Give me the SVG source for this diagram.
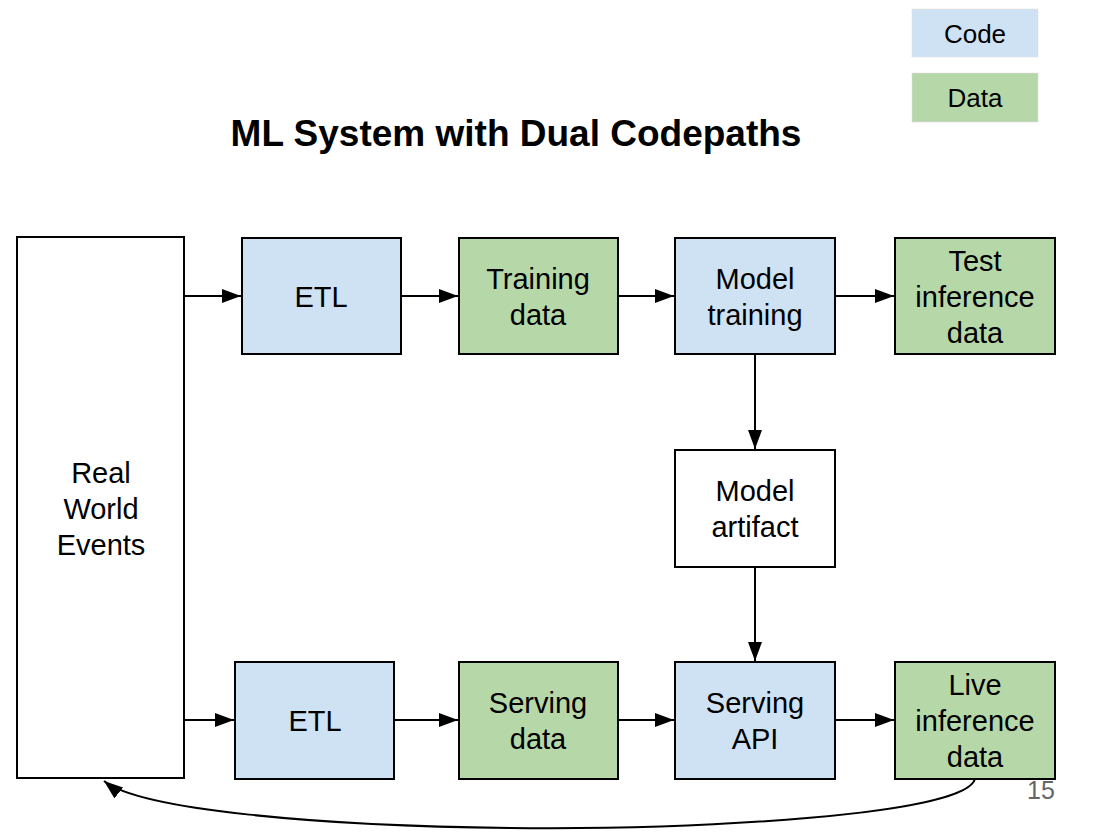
<svg xmlns="http://www.w3.org/2000/svg" width="1098" height="839" viewBox="0 0 1098 839">
<style>
.box{stroke:#000;stroke-width:2}
.code{fill:#cfe2f3}
.data{fill:#b6d7a8}
.plain{fill:#fff}
.t{font-family:"Liberation Sans",Arial,sans-serif;font-size:29px;fill:#000;text-anchor:middle}
.leg{stroke:#ddd;stroke-width:1;stroke-dasharray:1 1}
.c{stroke:#000;stroke-width:2;fill:none}
</style>
<defs>
<marker id="ah2" viewBox="0 0 10 10" refX="10" refY="5" markerWidth="19" markerHeight="14" markerUnits="userSpaceOnUse" orient="auto" preserveAspectRatio="none">
<path d="M0,0 L10,5 L0,10 z" fill="#000"/>
</marker>
</defs>
<rect width="1098" height="839" fill="#fff"/>
<g id="legend">
<rect x="912" y="9" width="126" height="48" class="code leg"/>
<text x="975" y="43" class="t" style="font-size:26px">Code</text>
<rect x="912" y="73" width="126" height="49" class="data leg"/>
<text x="975" y="107" class="t" style="font-size:26px">Data</text>
</g>
<text x="516" y="146" class="t" style="font-size:37px;font-weight:bold">ML System with Dual Codepaths</text>
<g id="real-world">
<rect x="17" y="237" width="167" height="541" class="box plain"/>
<text x="101" y="483" class="t">Real</text>
<text x="101" y="519" class="t">World</text>
<text x="101" y="555" class="t">Events</text>
</g>
<g id="etl-top">
<rect x="242" y="238" width="159" height="116" class="box code"/>
<text x="321" y="307" class="t">ETL</text>
</g>
<g id="training-data">
<rect x="459" y="238" width="159" height="116" class="box data"/>
<text x="538" y="289" class="t">Training</text>
<text x="538" y="325" class="t">data</text>
</g>
<g id="model-training">
<rect x="675" y="238" width="160" height="116" class="box code"/>
<text x="755" y="289" class="t">Model</text>
<text x="755" y="325" class="t">training</text>
</g>
<g id="test-inference">
<rect x="895" y="238" width="160" height="116" class="box data"/>
<text x="975" y="271" class="t">Test</text>
<text x="975" y="307" class="t">inference</text>
<text x="975" y="343" class="t">data</text>
</g>
<g id="model-artifact">
<rect x="675" y="450" width="160" height="117" class="box plain"/>
<text x="755" y="501" class="t">Model</text>
<text x="755" y="537" class="t">artifact</text>
</g>
<g id="etl-bottom">
<rect x="235" y="662" width="159" height="117" class="box code"/>
<text x="315" y="731" class="t">ETL</text>
</g>
<g id="serving-data">
<rect x="459" y="662" width="159" height="117" class="box data"/>
<text x="538" y="713" class="t">Serving</text>
<text x="538" y="749" class="t">data</text>
</g>
<g id="serving-api">
<rect x="675" y="662" width="160" height="117" class="box code"/>
<text x="755" y="713" class="t">Serving</text>
<text x="755" y="749" class="t">API</text>
</g>
<g id="live-inference">
<rect x="895" y="662" width="160" height="117" class="box data"/>
<text x="975" y="695" class="t">Live</text>
<text x="975" y="731" class="t">inference</text>
<text x="975" y="767" class="t">data</text>
</g>
<text x="1041" y="799" style="font-family:'Liberation Sans',Arial,sans-serif;font-size:25px;fill:#666;text-anchor:middle">15</text>
<g id="connectors">
<line x1="184" y1="296" x2="241" y2="296" class="c" marker-end="url(#ah2)"/>
<line x1="401" y1="296" x2="458" y2="296" class="c" marker-end="url(#ah2)"/>
<line x1="618" y1="296" x2="674" y2="296" class="c" marker-end="url(#ah2)"/>
<line x1="835" y1="296" x2="894" y2="296" class="c" marker-end="url(#ah2)"/>
<line x1="755" y1="354" x2="755" y2="449" class="c" marker-end="url(#ah2)"/>
<line x1="755" y1="567" x2="755" y2="661" class="c" marker-end="url(#ah2)"/>
<line x1="184" y1="720" x2="234" y2="720" class="c" marker-end="url(#ah2)"/>
<line x1="394" y1="720" x2="458" y2="720" class="c" marker-end="url(#ah2)"/>
<line x1="618" y1="720" x2="674" y2="720" class="c" marker-end="url(#ah2)"/>
<line x1="835" y1="720" x2="894" y2="720" class="c" marker-end="url(#ah2)"/>
<path d="M975,779 C965,815 700,830 510,828 C320,826 140,810 104,781" class="c" marker-end="url(#ah2)"/>
</g>
</svg>
